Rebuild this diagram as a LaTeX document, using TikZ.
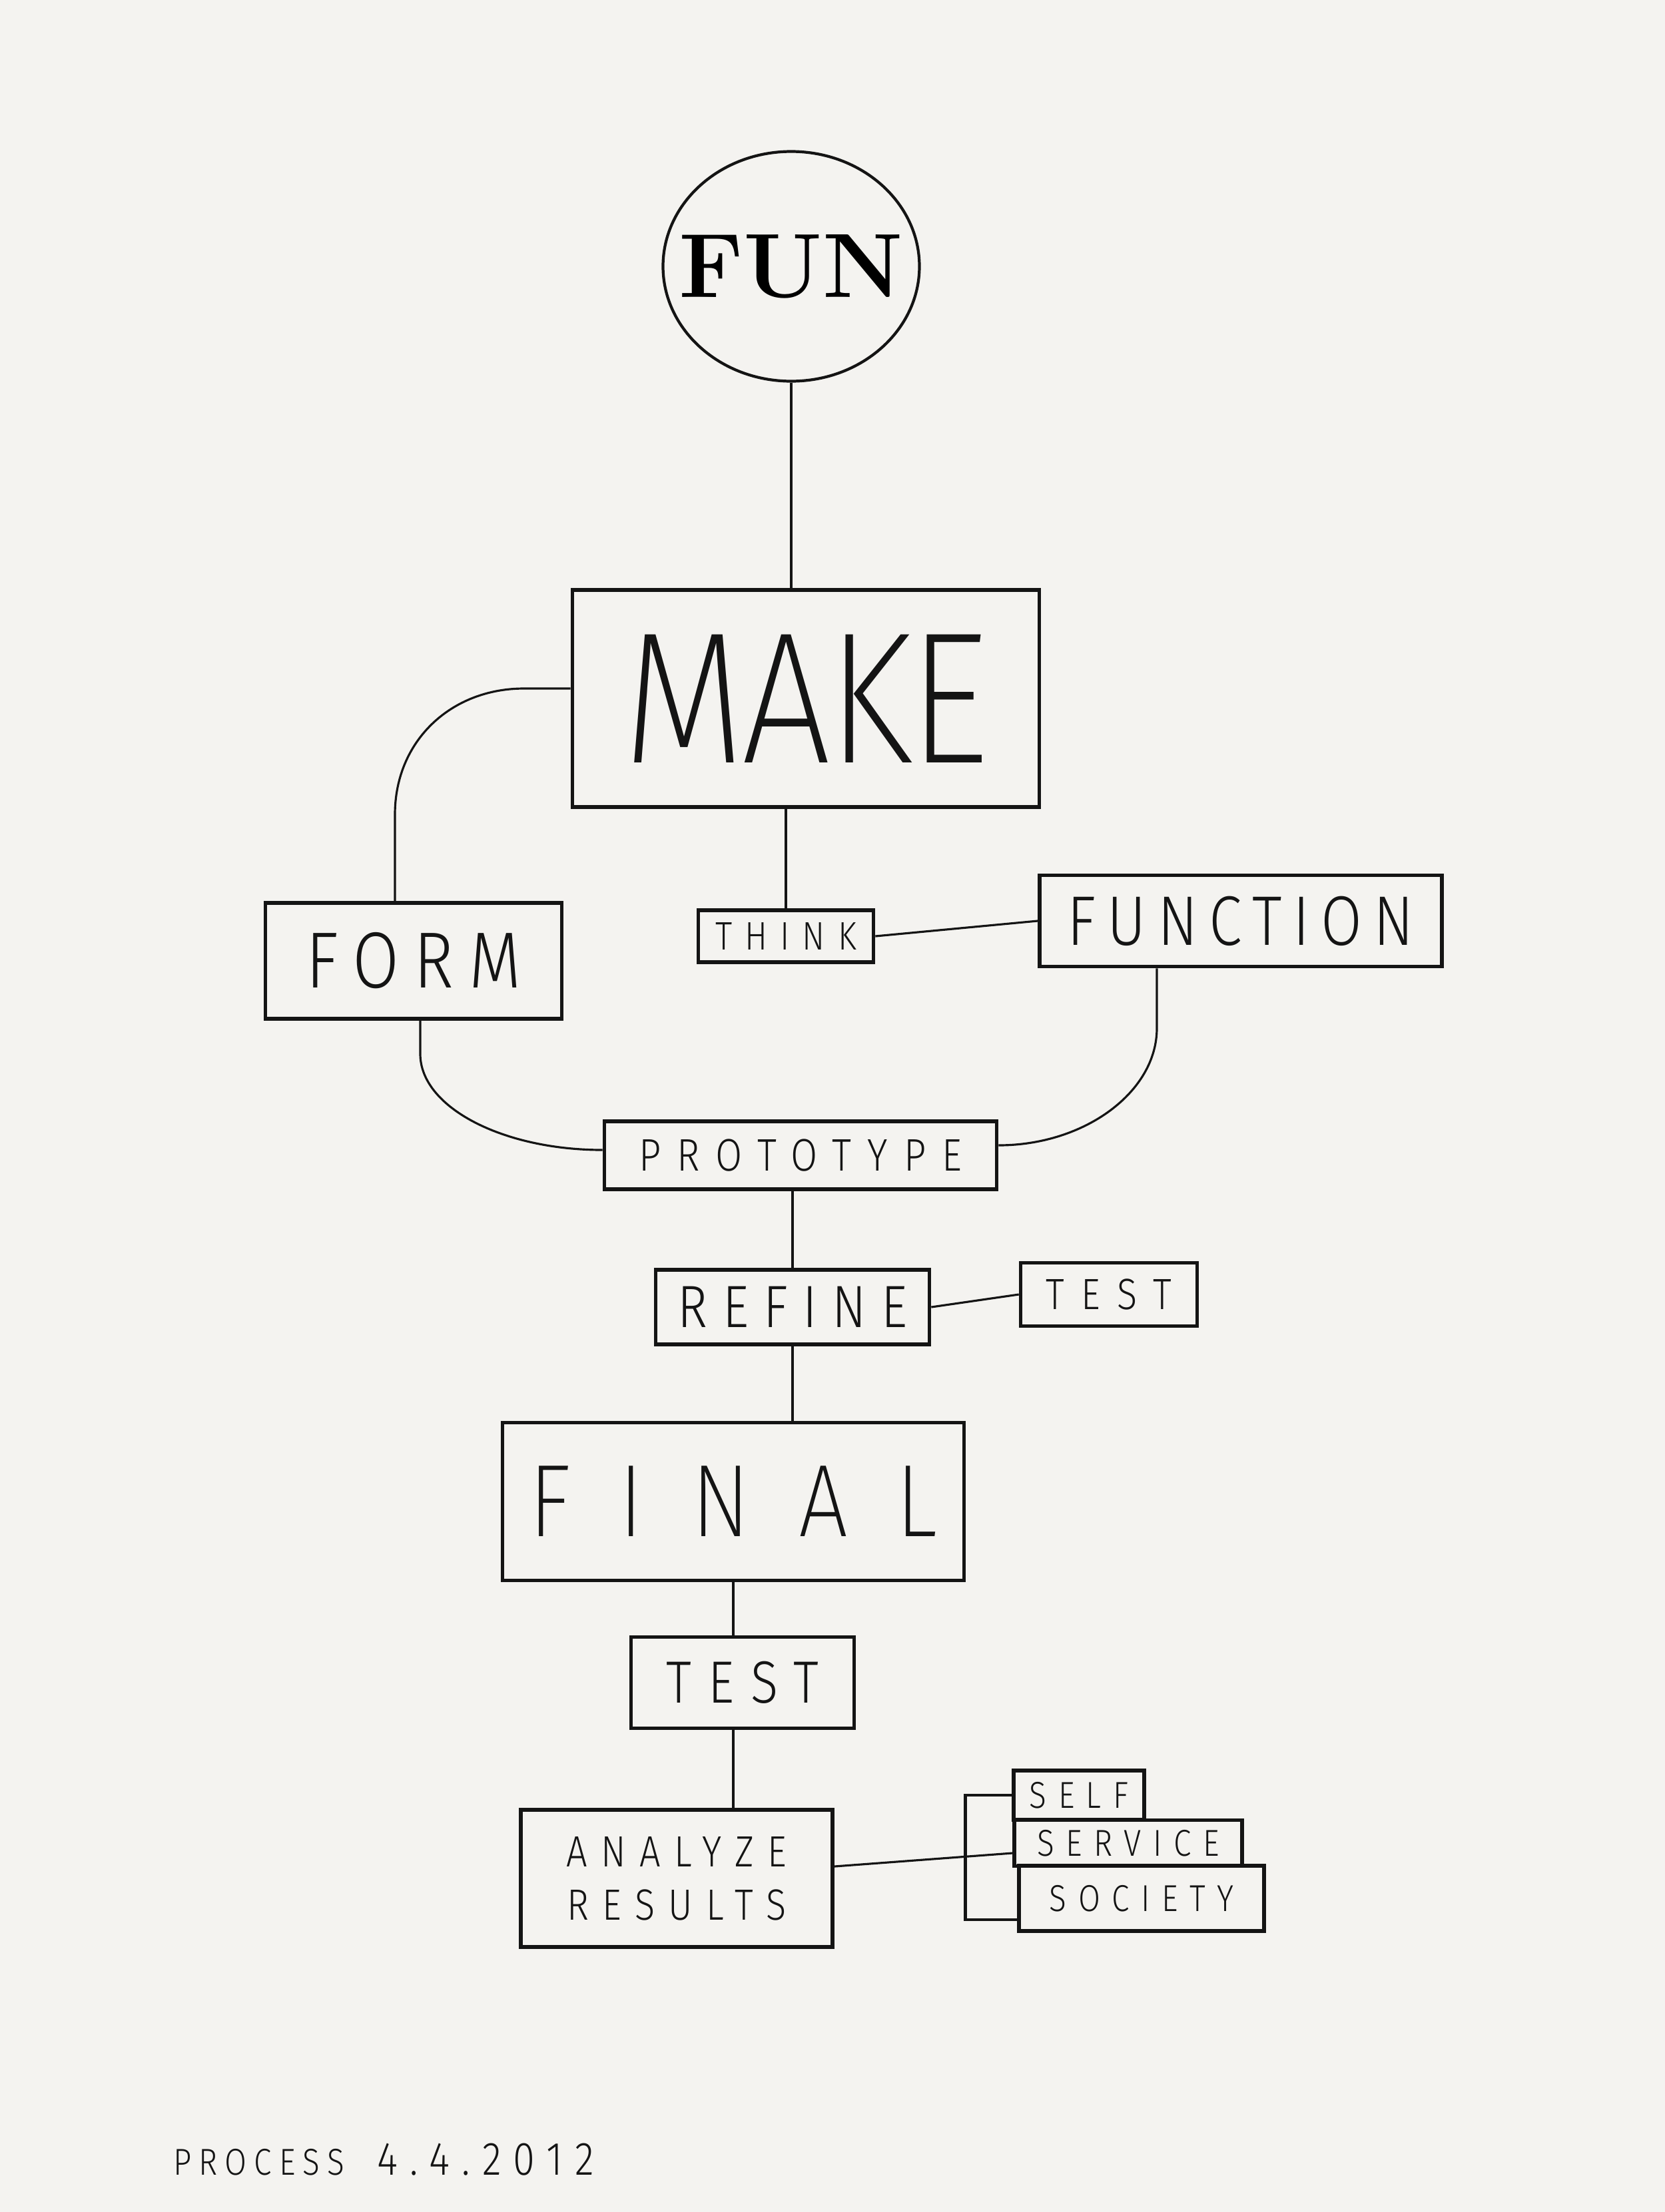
\documentclass[tikz,border=0pt]{standalone}
\usepackage{fontspec}
\newfontfamily\handfont[FakeStretch=0.85]{Fira Sans Light}
\newfontfamily\thinhandfont[FakeStretch=0.85]{Fira Sans ExtraLight}
\usetikzlibrary{shapes.geometric, positioning, calc}
\definecolor{paper}{HTML}{F4F3F0}
\definecolor{inkc}{HTML}{141414}
% hand lettering: size, letter spacing
\newcommand\hand[2]{\handfont\fontsize{#1}{#1}\selectfont\addfontfeature{LetterSpace=#2}}
\newcommand\thinhand[2]{\thinhandfont\fontsize{#1}{#1}\selectfont\addfontfeature{LetterSpace=#2}}

\begin{document}
\begin{tikzpicture}[
    box/.style={draw=inkc, text=inkc, line width=1.6pt, inner sep=0pt},
    wire/.style={draw=inkc, line width=0.9pt},
  ]
    \fill[paper] (0,0) rectangle (25,-33.22);

    \node[ellipse, draw=inkc, line width=1.2pt, inner sep=0pt, minimum width=3.85cm, minimum height=3.45cm,
          font=\bfseries\fontsize{39pt}{39pt}\selectfont] (fun) at (11.88,-4.0) {\makebox[0pt]{FUN}};
    \node[box, minimum width=7.01cm, minimum height=3.26cm, font=\thinhand{80pt}{-2}] (make) at (12.10,-10.49) {MAKE};
    \node[box, minimum width=2.63cm, minimum height=0.78cm, font=\hand{17pt}{32}] (think) at (11.80,-14.06) {THINK};
    \node[box, minimum width=6.04cm, minimum height=1.37cm, font=\hand{30pt}{16}] (function) at (18.63,-13.83) {FUNCTION};
    \node[box, minimum width=4.45cm, minimum height=1.74cm, font=\hand{34pt}{19}] (form) at (6.21,-14.43) {FORM};
    \node[box, minimum width=5.89cm, minimum height=1.02cm, font=\hand{19.5pt}{35}] (prototype) at (12.02,-17.35) {PROTOTYPE};
    \node[box, minimum width=4.11cm, minimum height=1.12cm, font=\hand{25.5pt}{25}] (refine) at (11.90,-19.63) {REFINE};
    \node[box, minimum width=2.65cm, minimum height=0.95cm, font=\hand{18.7pt}{39}] (sidetest) at (16.65,-19.44) {TEST};
    \node[box, minimum width=6.93cm, minimum height=2.37cm, font=\thinhand{44pt}{47}] (final) at (11.01,-22.55) {FINAL};
    \node[box, minimum width=3.35cm, minimum height=1.37cm, font=\hand{25.5pt}{28}] (test) at (11.15,-25.27) {TEST};
    \node[box, minimum width=4.68cm, minimum height=2.06cm, align=center, font=\hand{18.7pt}{31}] (analyze) at (10.16,-28.21) {ANALYZE\\[4pt]RESULTS};

    % the three S boxes, stacked
    \node[box, minimum width=1.96cm, minimum height=0.74cm, font=\hand{16pt}{31}] (self) at (16.20,-26.96) {SELF};
    \node[box, minimum width=3.42cm, minimum height=0.69cm, font=\hand{16pt}{31}] (service) at (16.94,-27.68) {SERVICE};
    \node[box, minimum width=3.68cm, minimum height=0.98cm, font=\hand{16pt}{31}] (society) at (17.14,-28.51) {SOCIETY};

    \node[text=inkc] (caption) at (5.76,-32.43) {{\hand{16pt}{20}PROCESS}\hspace{0.5cm}{\hand{20pt}{26}4.4.2012}};

    \draw[wire] (fun.south) -- (fun.south |- make.north);
    \draw[wire] (think.north |- make.south) -- (think.north);
    \draw[wire] (think.east) -- (function.west);
    \draw[wire] ([yshift=1.5mm]make.west) -- ++(-0.7,0) .. controls +(-1.1,0) and +(0,1.1) .. ($(form.north)+(-0.28,1.3)$) -- ($(form.north)+(-0.28,0)$);
    \draw[wire] ($(form.south)+(0.1,0)$) -- ++(0,-0.5) .. controls +(0,-0.8) and +(-1.5,0) .. ([yshift=0.8mm]prototype.west);
    \draw[wire] ($(function.south)+(-1.26,0)$) -- ++(0,-0.9) .. controls +(0,-0.95) and +(1.3,0) .. ([yshift=1.5mm]prototype.east);
    \draw[wire] (refine.north |- prototype.south) -- (refine.north);
    \draw[wire] (refine.east) -- (sidetest.west);
    \draw[wire] (refine.south) -- (refine.south |- final.north);
    \draw[wire] (final.south) -- (final.south |- test.north);
    \draw[wire] (final.south |- test.south) -- (final.south |- analyze.north);
    \draw[wire] ([yshift=1.8mm]analyze.east) -- ([yshift=-1.5mm]service.west);
    \draw[wire, line width=1.4pt] (self.west) -- ++(-0.7,0) |- ([yshift=-3.2mm]society.west);
\end{tikzpicture}
\end{document}
